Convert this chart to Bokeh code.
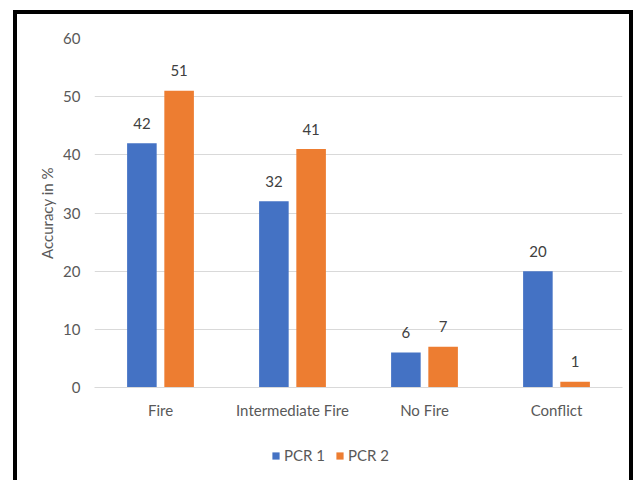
from bokeh.plotting import figure
from bokeh.layouts import column
from bokeh.models import ColumnDataSource, FactorRange, Legend, LegendItem, FixedTicker
from bokeh.transform import dodge
from bokeh.embed import file_html
from bokeh.resources import INLINE
from bokeh.core.properties import value

categories = ["Fire", "Intermediate Fire", "No Fire", "Conflict"]
pcr1 = [42, 32, 6, 20]
pcr2 = [51, 41, 7, 1]
series_names = ["PCR 1", "PCR 2"]
y_ticks = [0, 10, 20, 30, 40, 50, 60]
y_label = "Accuracy in %"

FONT = "Lato"
BLUE = "#4472C4"
ORANGE = "#ED7D31"
GRID = "#d9d9d9"

src = ColumnDataSource(dict(
    cat=categories, pcr1=pcr1, pcr2=pcr2,
    t1=[str(v) for v in pcr1], t2=[str(v) for v in pcr2],
))

p = figure(x_range=FactorRange(*categories), y_range=(0, 60),
           width=620, height=412, output_backend="svg", toolbar_location=None,
           min_border_left=76, min_border_right=16, min_border_top=23,
           min_border_bottom=40)
p.styles = {"border": "4px solid black", "border-bottom": "none",
            "padding": "1px", "padding-bottom": "0",
            "background-color": "white"}
p.outline_line_color = None
p.border_fill_color = "white"
p.background_fill_color = "white"

off = 0.141
bw = 0.224
p.vbar(x=dodge("cat", -off, range=p.x_range), top="pcr1", width=bw,
       source=src, fill_color=BLUE, line_color=None)
p.vbar(x=dodge("cat", off, range=p.x_range), top="pcr2", width=bw,
       source=src, fill_color=ORANGE, line_color=None)

for col, o in (("t1", -off), ("t2", off)):
    p.text(x=dodge("cat", o, range=p.x_range), y=col.replace("t", "pcr"), text=col,
           source=src, text_align="center", text_baseline="middle", y_offset=-20,
           text_font=value(FONT), text_font_size="15px", text_color="#404040")

p.xgrid.grid_line_color = None
p.ygrid.grid_line_color = GRID
p.ygrid.grid_line_width = 1

p.yaxis.ticker = FixedTicker(ticks=y_ticks)
p.yaxis.axis_line_color = None
p.yaxis.major_label_standoff = 14
p.yaxis.axis_label = y_label
p.yaxis.axis_label_standoff = 4
p.yaxis.axis_label_text_font_style = "normal"

p.xaxis.axis_line_color = GRID
p.xaxis.major_label_standoff = 13

for ax in (p.xaxis, p.yaxis):
    ax.major_tick_line_color = None
    ax.minor_tick_line_color = None
    ax.major_tick_out = 0
    ax.major_tick_in = 0
    ax.minor_tick_out = 0
    ax.minor_tick_in = 0
    ax.major_label_text_font = FONT
    ax.major_label_text_font_size = "15px"
    ax.major_label_text_color = "#595959"
    ax.axis_label_text_font = FONT
    ax.axis_label_text_font_size = "15px"
    ax.axis_label_text_color = "#595959"

# legend strip below the chart
p2 = figure(width=620, height=58, x_range=FactorRange(*categories), y_range=(0, 60),
            output_backend="svg", toolbar_location=None,
            x_axis_location=None, y_axis_location=None, min_border=0)
p2.styles = {"border-left": "4px solid black", "border-right": "4px solid black",
             "padding-left": "1px", "padding-right": "1px",
             "background-color": "white"}
p2.grid.visible = False
p2.outline_line_color = None
p2.border_fill_color = "white"
p2.background_fill_color = "white"
l1 = p2.vbar(x=dodge("cat", -off, range=p2.x_range), top="pcr1", width=bw,
             source=src, fill_color=BLUE, line_color=None, visible=False)
l2 = p2.vbar(x=dodge("cat", off, range=p2.x_range), top="pcr2", width=bw,
             source=src, fill_color=ORANGE, line_color=None, visible=False)

legend = Legend(items=[LegendItem(label=series_names[0], renderers=[l1]),
                       LegendItem(label=series_names[1], renderers=[l2])],
                orientation="horizontal", location=(177, 16),
                padding=0, margin=0, spacing=10, label_standoff=4,
                glyph_width=9, glyph_height=9, label_height=17,
                label_text_font=FONT, label_text_font_size="15px",
                label_text_color="#595959",
                border_line_color=None, background_fill_alpha=0)
p2.add_layout(legend, "center")

layout = column(p, p2, spacing=0, margin=(10, 0, 0, 13))

open("out.html", "w").write(file_html(layout, INLINE))
